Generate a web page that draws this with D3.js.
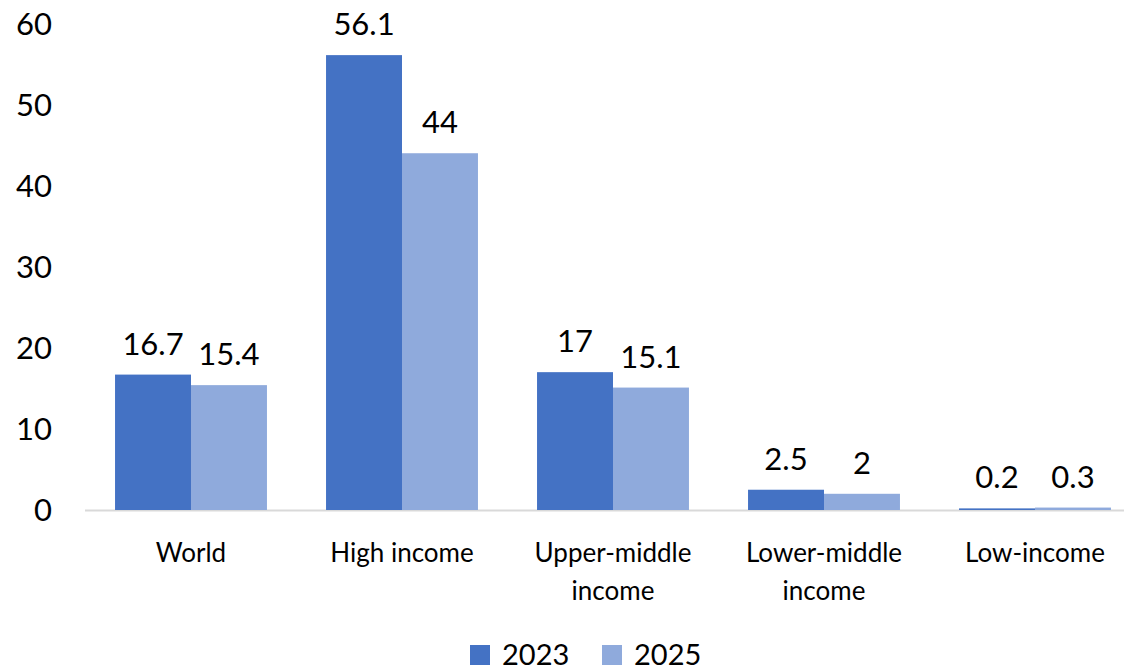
<!DOCTYPE html>
<html>
<head>
<meta charset="utf-8">
<script src="https://cdn.jsdelivr.net/npm/d3@7"></script>
<style>
  html, body { margin: 0; padding: 0; background: #fff; }
  svg { display: block; font-family: "Lato", "Open Sans", sans-serif; }
</style>
</head>
<body>
<svg id="chart" width="1124" height="671"></svg>
<script>
// Income groups and their values for each year
const categories = ["World", "High income", "Upper-middle income", "Lower-middle income", "Low-income"];
const categoryLines = [["World"], ["High income"], ["Upper-middle", "income"], ["Lower-middle", "income"], ["Low-income"]];
const years = ["2023", "2025"];
const values2023 = [16.7, 56.1, 17, 2.5, 0.2];
const values2025 = [15.4, 44, 15.1, 2, 0.3];
const yTicks = [0, 10, 20, 30, 40, 50, 60];
const colors = ["#4472C4", "#8FAADC"];

const series = [values2023, values2025];
const rows = categories.map((c, i) => ({ cat: c, vals: years.map((y, j) => ({ year: y, v: series[j][i], j })) }));

const svg = d3.select("#chart");

const x0 = d3.scaleBand().domain(categories).range([85.5, 1140.5]).paddingInner(0.28).paddingOuter(0.14);
const x1 = d3.scaleBand().domain(years).range([0, x0.bandwidth()]);
const y = d3.scaleLinear().domain([0, 60]).range([510, 23.5]);

// Y-axis tick labels (no line)
svg.append("g").selectAll("text").data(yTicks).join("text")
  .attr("x", 52).attr("y", d => y(d)).attr("dy", "0.36em")
  .attr("text-anchor", "end").attr("font-size", 31).attr("fill", "#000")
  .text(d => d);

// Baseline
svg.append("line").attr("x1", 85).attr("x2", 1124).attr("y1", y(0) + 0.5).attr("y2", y(0) + 0.5)
  .attr("stroke", "#d9d9d9").attr("stroke-width", 2);

// Bars
const groups = svg.append("g").selectAll("g").data(rows).join("g")
  .attr("transform", d => `translate(${x0(d.cat)},0)`);

groups.selectAll("rect").data(d => d.vals).join("rect")
  .attr("x", d => x1(d.year)).attr("width", x1.bandwidth())
  .attr("y", d => y(d.v)).attr("height", d => y(0) - y(d.v))
  .attr("fill", d => colors[d.j]);

// Value labels
groups.selectAll("text.val").data(d => d.vals).join("text").attr("class", "val")
  .attr("x", d => x1(d.year) + x1.bandwidth() / 2).attr("y", d => y(d.v) - 20)
  .attr("text-anchor", "middle").attr("font-size", 31).attr("fill", "#000")
  .text(d => d.v);

// Category labels
svg.append("g").selectAll("text").data(categories).join("text")
  .attr("x", d => x0(d) + x0.bandwidth() / 2).attr("y", 562)
  .attr("text-anchor", "middle").attr("font-size", 26).attr("fill", "#000")
  .each(function(d, i) {
    d3.select(this).selectAll("tspan").data(categoryLines[i]).join("tspan")
      .attr("x", x0(d) + x0.bandwidth() / 2).attr("dy", (t, k) => k === 0 ? 0 : "1.45em")
      .text(t => t);
  });

// Legend
const legend = svg.append("g").selectAll("g").data(years).join("g")
  .attr("transform", (d, i) => `translate(${470 + i * 132},645)`);
legend.append("rect").attr("width", 20).attr("height", 20).attr("fill", (d, i) => colors[i]);
legend.append("text").attr("x", 32).attr("y", 10).attr("dy", "0.36em")
  .attr("font-size", 29).attr("fill", "#000").text(d => d);
</script>
</body>
</html>
